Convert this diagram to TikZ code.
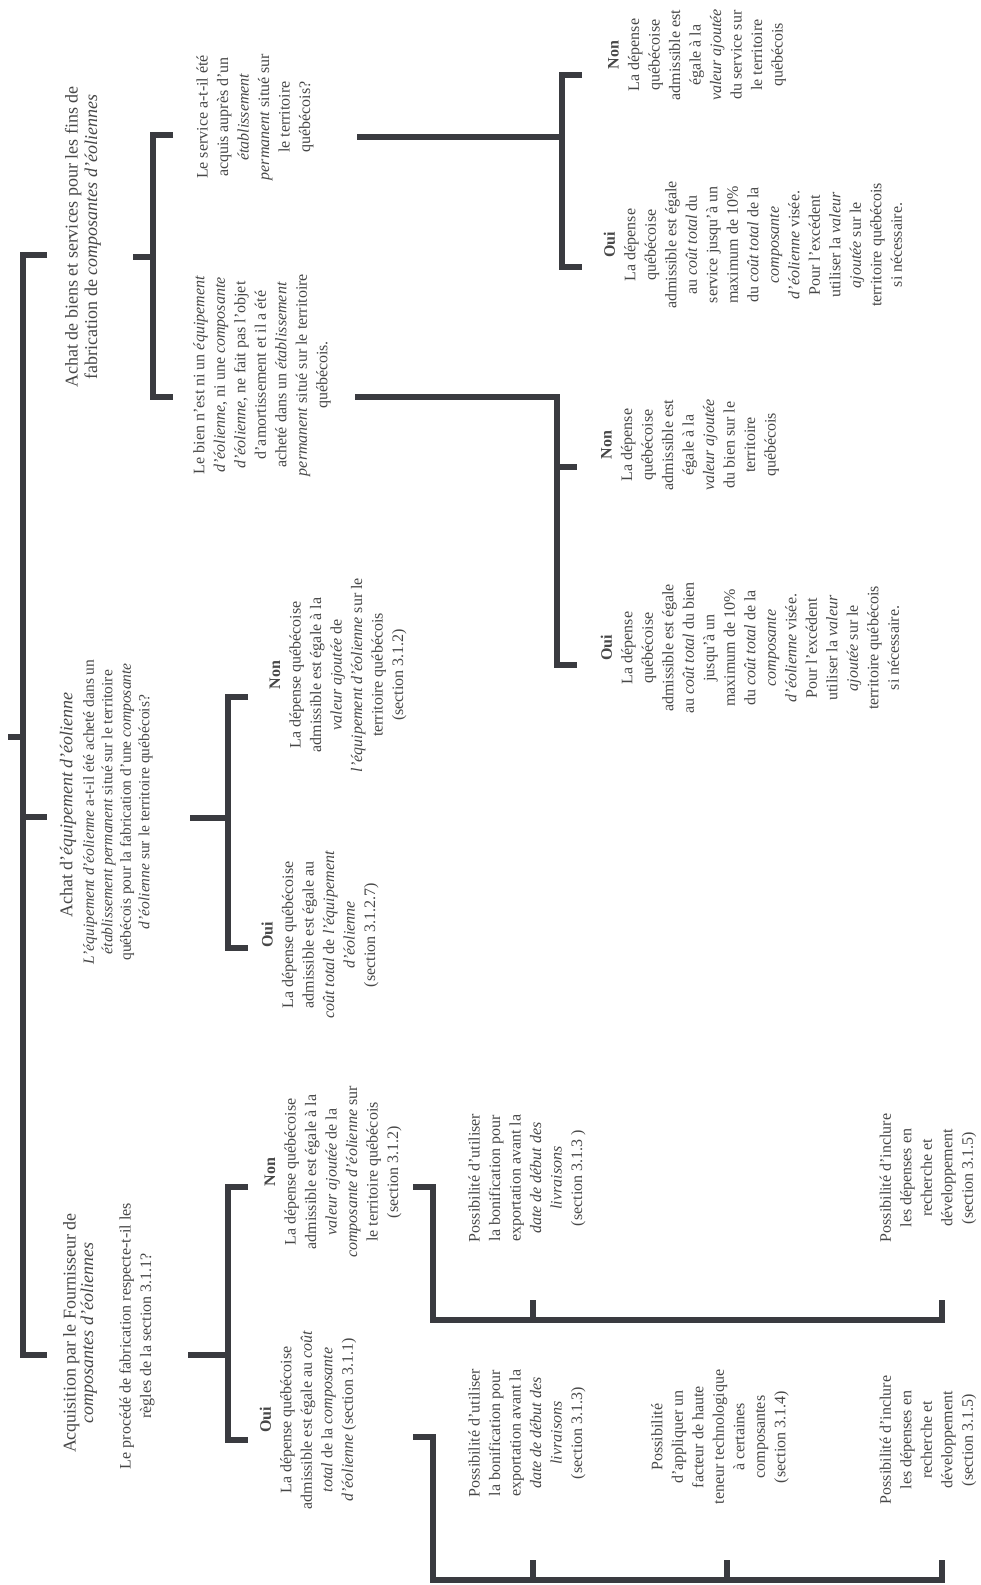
\documentclass[tikz,border=0pt]{standalone}
\usepackage{fontspec}
\setmainfont{Liberation Serif}
\usetikzlibrary{calc}
\definecolor{cBar}{HTML}{3A3B40}
\definecolor{cTxt}{HTML}{474747}

\begin{document}
\begin{tikzpicture}[
    x=1pt, y=-1pt,
    bar/.style={draw=cBar, line width=5.5pt, line cap=butt, line join=miter},
    txt/.style={rotate=90, align=center, inner sep=0pt, text=cTxt,
                font=\fontsize{16}{20.5}\selectfont},
    ttl/.style={txt, font=\fontsize{18}{19.5}\selectfont},
    rep/.style={txt},
]
\fill[white] (0,0) rectangle (980,1585);
\useasboundingbox (0,0) rectangle (980,1585);

% ===========================================================================
% Racine
% ===========================================================================
\coordinate (r-in)  at (8,737);
\coordinate (r-top) at (23,255);
\coordinate (r-mid) at (23,817);
\coordinate (r-bot) at (23,1355);
\draw[bar] (r-in) -- (r-in -| r-top);
\draw[bar] ($(r-top)+(24,0)$) -- (r-top) -- (r-bot) -- ++(24,0);
\draw[bar] (r-mid) -- ++(24,0);

% ===========================================================================
% Achat de biens et services
% ===========================================================================
\node[ttl] (biens) at (83,237)
      {Achat de biens et services pour les fins de\\fabrication de \textit{composantes d'éoliennes}};

\coordinate (b-in)  at (133,257);
\coordinate (b-top) at (153,135);
\coordinate (b-bot) at (153,397);
\draw[bar] (b-in) -- (b-in -| b-top);
\draw[bar] ($(b-top)+(20,0)$) -- (b-top) -- (b-bot) -- ++(20,0);

\node[txt] (service) at (255,117)
      {Le service a-t-il été\\acquis auprès d'un\\\textit{établissement}\\\textit{permanent} situé sur\\le territoire\\québécois?};
\node[txt] (bien) at (262,375)
      {Le bien n'est ni un \textit{équipement}\\\textit{d'éolienne}, ni une \textit{composante}\\\textit{d'éolienne}, ne fait pas l'objet\\d'amortissement et il a été\\acheté dans un \textit{établissement}\\\textit{permanent} situé sur le territoire\\québécois.};

% ----- service -----
\coordinate (s-in)  at (357,137);
\coordinate (s-top) at (562,75);
\coordinate (s-bot) at (562,267);
\draw[bar] (s-in) -- (s-in -| s-top);
\draw[bar] ($(s-top)+(20,0)$) -- (s-top) -- (s-bot) -- ++(20,0);

\node[rep] (serviceNon) at (697,55)
      {\textbf{Non}\\La dépense\\québécoise\\admissible est\\égale à la\\\textit{valeur ajoutée}\\du service sur\\le territoire\\québécois};
\node[rep] (serviceOui) at (753,245)
      {\textbf{Oui}\\La dépense\\québécoise\\admissible est égale\\au \textit{coût total} du\\service jusqu'à un\\maximum de 10\%\\du \textit{coût total} de la\\\textit{composante}\\\textit{d'éolienne} visée.\\Pour l'excédent\\utiliser la \textit{valeur}\\\textit{ajoutée} sur le\\territoire québécois\\si nécessaire.};

% ----- bien -----
\coordinate (p-in)  at (355,397);
\coordinate (p-top) at (557,397);
\coordinate (p-mid) at (557,467);
\coordinate (p-bot) at (557,665);
\draw[bar] (p-in) -- (p-top) -- (p-bot) -- ++(20,0);
\draw[bar] (p-mid) -- ++(20,0);

\node[rep] (bienNon) at (690,445)
      {\textbf{Non}\\La dépense\\québécoise\\admissible est\\égale à la\\\textit{valeur ajoutée}\\du bien sur le\\territoire\\québécois};
\node[rep] (bienOui) at (750,648)
      {\textbf{Oui}\\La dépense\\québécoise\\admissible est égale\\au \textit{coût total} du bien\\jusqu'à un\\maximum de 10\%\\du \textit{coût total} de la\\\textit{composante}\\\textit{d'éolienne} visée.\\Pour l'excédent\\utiliser la \textit{valeur}\\\textit{ajoutée} sur le\\territoire québécois\\si nécessaire.};

% ===========================================================================
% Achat d'équipement d'éolienne
% ===========================================================================
\node[ttl] (equip) at (68,805) {Achat d'\textit{équipement d'éolienne}};
\node[txt, font=\fontsize{15.5}{18.5}\selectfont] (equipQ) at (118,812)
      {\textit{L'équipement d'éolienne} a-t-il été acheté dans un\\\textit{établissement permanent} situé sur le territoire\\québécois pour la fabrication d'une \textit{composante}\\\textit{d'éolienne} sur le territoire québécois?};

\coordinate (e-in)  at (190,818);
\coordinate (e-top) at (228,697);
\coordinate (e-bot) at (228,948);
\draw[bar] (e-in) -- (e-in -| e-top);
\draw[bar] ($(e-top)+(20,0)$) -- (e-top) -- (e-bot) -- ++(20,0);

\node[rep] (equipNon) at (338,675)
      {\textbf{Non}\\La dépense québécoise\\admissible est égale à la\\\textit{valeur ajoutée} de\\\textit{l'équipement d'éolienne} sur le\\territoire québécois\\(section 3.1.2)};
\node[rep] (equipOui) at (320,935)
      {\textbf{Oui}\\La dépense québécoise\\admissible est égale au\\\textit{coût total} de \textit{l'équipement}\\\textit{d'éolienne}\\(section 3.1.2.7)};

% ===========================================================================
% Acquisition par le Fournisseur
% ===========================================================================
\node[ttl, font=\fontsize{18}{17.5}\selectfont] (acq) at (80,1333)
      {Acquisition par le Fournisseur de\\\textit{composantes d'éoliennes}};
\node[txt] (acqQ) at (137,1336)
      {Le procédé de fabrication respecte-t-il les\\règles de la section 3.1.1?};

\coordinate (a-in)  at (188,1355);
\coordinate (a-top) at (228,1187);
\coordinate (a-bot) at (228,1440);
\draw[bar] (a-in) -- (a-in -| a-top);
\draw[bar] ($(a-top)+(20,0)$) -- (a-top) -- (a-bot) -- ++(20,0);

\node[rep] (acqNon) at (333,1172)
      {\textbf{Non}\\La dépense québécoise\\admissible est égale à la\\\textit{valeur ajoutée} de la\\\textit{composante d'éolienne} sur\\le territoire québécois\\(section 3.1.2)};
\node[rep] (acqOui) at (308,1420)
      {\textbf{Oui}\\La dépense québécoise\\admissible est égale au \textit{coût}\\\textit{total} de la \textit{composante}\\\textit{d'éolienne} (section 3.1.1)};

% ----- Non : possibilités -----
\coordinate (n-in)  at (413,1187);
\coordinate (n-cor) at (433,1187);
\coordinate (n-bot) at (433,1320);
\coordinate (n-end) at (942,1320);
\draw[bar] (n-in) -- (n-cor) -- (n-bot) -- (n-end) -- ++(0,-20);
\draw[bar] (533,1320) -- ++(0,-20);

\node[rep] (bonifNon) at (527,1178)
      {Possibilité d'utiliser\\la bonification pour\\exportation avant la\\\textit{date de début des}\\\textit{livraisons}\\(section 3.1.3 )};
\node[rep] (rdNon) at (928,1178)
      {Possibilité d'inclure\\les dépenses en\\recherche et\\développement\\(section 3.1.5)};

% ----- Oui : possibilités -----
\coordinate (o-in)  at (413,1437);
\coordinate (o-cor) at (433,1437);
\coordinate (o-bot) at (433,1580);
\coordinate (o-end) at (942,1580);
\draw[bar] (o-in) -- (o-cor) -- (o-bot) -- (o-end) -- ++(0,-20);
\foreach \x in {533, 727} {
    \draw[bar] (\x,1580) -- ++(0,-20);
}

\node[rep] (bonifOui) at (527,1433)
      {Possibilité d'utiliser\\la bonification pour\\exportation avant la\\\textit{date de début des}\\\textit{livraisons}\\(section 3.1.3)};
\node[rep] (techOui) at (720,1437)
      {Possibilité\\d'appliquer un\\facteur de haute\\teneur technologique\\à certaines\\composantes\\(section 3.1.4)};
\node[rep] (rdOui) at (928,1440)
      {Possibilité d'inclure\\les dépenses en\\recherche et\\développement\\(section 3.1.5)};

\end{tikzpicture}
\end{document}
